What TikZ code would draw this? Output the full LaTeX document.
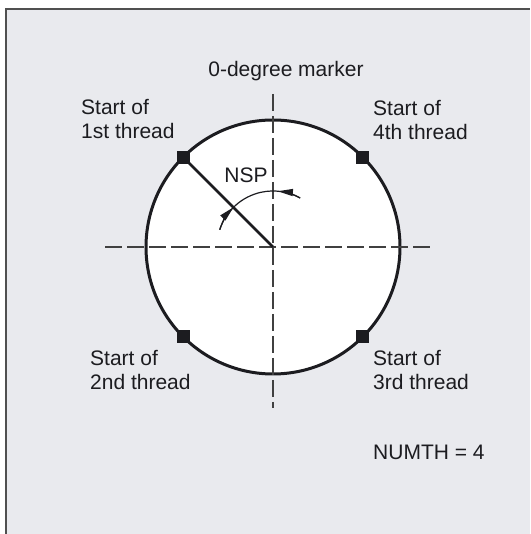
\documentclass[tikz,border=0pt]{standalone}
\usepackage{fontspec}
\setmainfont{Liberation Sans}
\usetikzlibrary{arrows.meta}
\definecolor{bg}{HTML}{E9EAEE}
\definecolor{ink}{HTML}{1C1C20}
\definecolor{dashc}{HTML}{404040}
\definecolor{framec}{HTML}{505050}
\begin{document}
\begin{tikzpicture}[x=1pt,y=1pt,
  lbl/.style={font=\fontsize{21}{24}\selectfont, text=ink, inner sep=0pt, align=left},
  marker/.style={fill=ink, minimum size=13pt, inner sep=0pt},
  axis/.style={draw=dashc, line width=1.3pt, dash pattern=on 17pt off 5pt},
  nsp/.style={line width=1.2pt, draw=ink},
  tipped/.style={-{Triangle[length=15pt,width=7pt]}}]
\useasboundingbox (0,0) rectangle (530,534);
\fill[bg] (6,0) rectangle (530,525);
\draw[framec, line width=1.5pt] (6,0) -- (6,525) -- (530,525);
\coordinate (O) at (273,287);
\node[circle, fill=white, draw=ink, line width=3pt, minimum size=254pt, inner sep=0pt, outer sep=0pt] (circ) at (O) {};
\coordinate (vt) at (273,440);
\coordinate (vb) at (273,126);
\coordinate (hl) at (105,287);
\coordinate (hr) at (432,287);
\draw[axis] (vt) -- (vb);
\draw[axis] (hl) -- (hr);
\draw[ink, line width=2.6pt] (circ.135) -- (O);
\node[marker] (s1) at (circ.135) {};
\node[marker] (s4) at (circ.45) {};
\node[marker] (s2) at (circ.225) {};
\node[marker] (s3) at (circ.315) {};
\draw[nsp] ([shift={(162:56)}]O) arc[start angle=162,end angle=61,radius=56];
\draw[nsp,tipped] ([shift={(162:56)}]O) arc[start angle=162,end angle=135,radius=56];
\draw[nsp,tipped] ([shift={(61:56)}]O) arc[start angle=61,end angle=85,radius=56];
\node[lbl, anchor=base] (zero) at (286,457) {0-degree marker};
\node[lbl] (nsplbl) at (246,359) {NSP};
\node[lbl, anchor=west] (t1) at (81,415) {Start of\\1st thread};
\node[lbl, anchor=west] (t4) at (373,414) {Start of\\4th thread};
\node[lbl, anchor=west] (t2) at (90,163.5) {Start of\\2nd thread};
\node[lbl, anchor=west] (t3) at (373,163.5) {Start of\\3rd thread};
\node[lbl, anchor=west] (num) at (373,82) {NUMTH = 4};
\end{tikzpicture}
\end{document}
